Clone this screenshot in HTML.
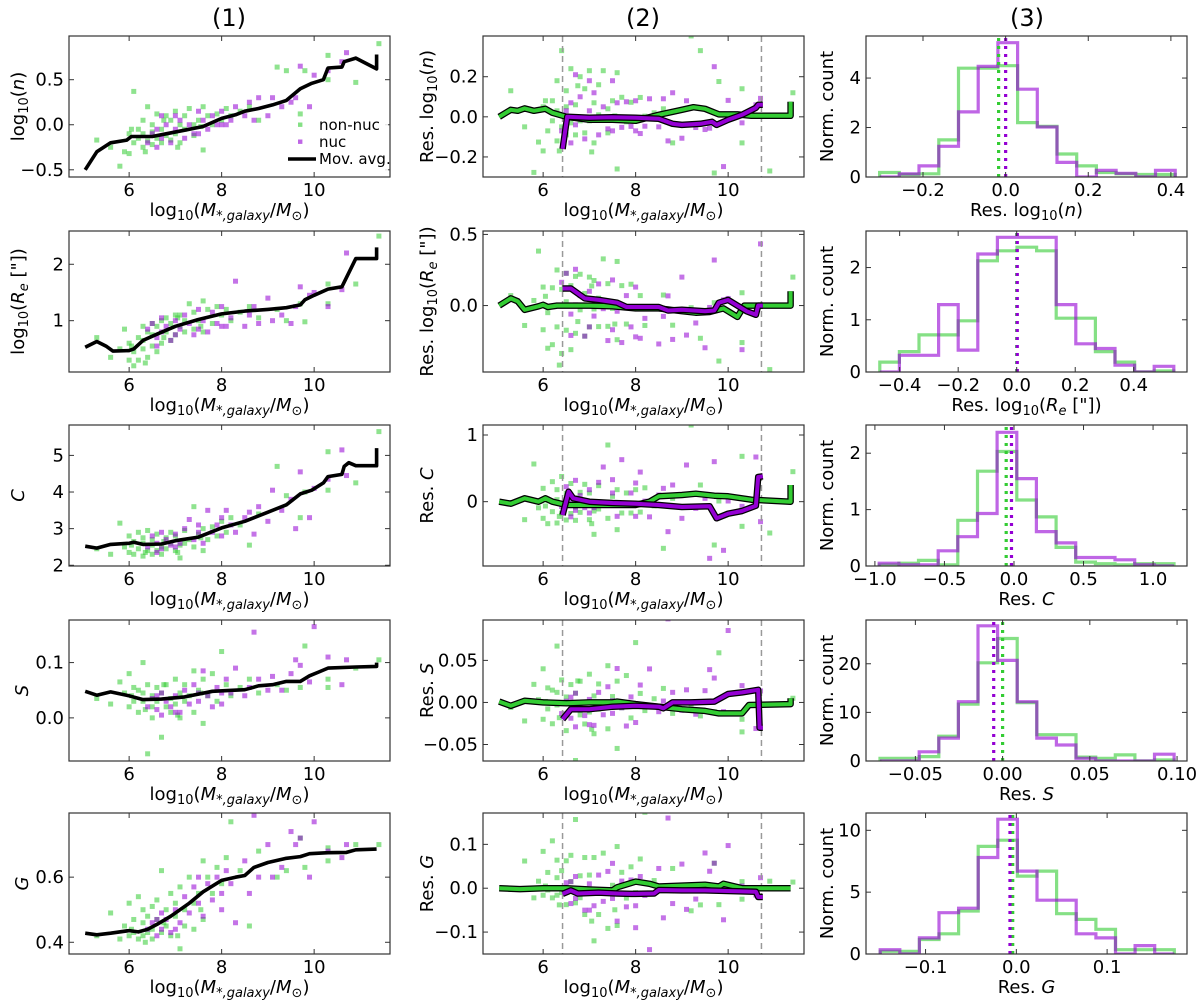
<!DOCTYPE html>
<html><head><meta charset="utf-8"><style>
html,body{margin:0;padding:0;background:#fff;}
svg{display:block;font-family:"DejaVu Sans","Liberation Sans",sans-serif;}
</style></head><body>
<svg id="fig" width="1200" height="1000" viewBox="0 0 1200 1000" xmlns="http://www.w3.org/2000/svg"></svg>
<script>
// ---------------- data ----------------
const gX=[5.3,5.6,5.8,5.9,6.0,6.0,6.1,6.1,6.2,6.2,6.3,6.3,6.3,6.4,6.4,6.5,6.5,6.5,6.6,6.6,6.7,6.7,6.8,6.8,6.9,6.9,7.0,7.0,7.1,7.1,7.2,7.2,7.3,7.4,7.4,7.5,7.6,7.6,7.7,7.8,7.9,8.0,8.1,8.2,8.4,8.6,8.8,9.2,9.4,9.7,9.8,10.3,10.3,10.9,11.4,6.05,6.35,6.75,7.05,7.55];
const pX=[6.4,6.5,6.6,6.7,6.7,6.8,6.9,7.0,7.1,7.2,7.3,7.4,7.5,7.6,7.7,7.8,7.9,8.0,8.1,8.2,8.3,8.5,8.6,8.7,8.8,9.0,9.1,9.3,9.5,9.6,9.7,9.9,10.0,10.3,10.6,10.7,6.6,7.0,7.5,8.0];
const gY1=[-0.17,-0.25,-0.46,-0.3,-0.1,-0.32,0.37,-0.2,-0.05,-0.15,0.05,-0.25,-0.1,0.2,-0.18,0.0,-0.22,-0.08,0.12,-0.15,-0.05,-0.2,0.1,-0.12,0.05,-0.17,0.15,-0.1,0.0,-0.2,0.1,-0.05,0.18,0.0,-0.12,0.05,0.2,-0.28,0.1,0.0,0.12,0.05,0.18,0.1,0.15,0.2,0.05,0.64,0.6,0.12,0.6,0.77,0.5,0.47,0.9,-0.05,-0.3,0.05,-0.25,-0.02];
const pY1=[-0.2,-0.1,-0.25,0.1,-0.15,0.0,-0.2,-0.05,0.05,-0.15,0.0,-0.1,0.15,0.05,-0.05,0.1,0.0,0.15,0.0,0.05,0.2,0.1,0.25,0.05,0.3,0.1,0.3,0.2,0.25,0.3,0.65,0.2,0.55,0.6,0.7,0.8,-0.05,0.1,-0.1,0.0];
const gY2=[0.7,0.35,0.5,0.85,0.3,0.6,0.2,0.45,0.7,0.3,0.9,0.5,0.65,0.35,0.8,0.95,0.55,0.75,0.45,0.9,1.0,0.6,0.8,1.05,0.65,0.95,1.1,0.75,0.9,1.1,0.8,1.0,1.3,0.85,1.15,1.0,1.35,0.8,1.2,0.95,1.25,1.1,1.2,1.0,1.15,1.25,1.05,1.2,1.0,1.3,0.98,1.65,1.3,1.65,2.5,0.55,0.25,0.7,1.05,0.9];
const pY2=[0.85,0.95,0.7,1.05,0.8,0.9,0.65,1.0,0.85,1.1,0.95,0.75,1.2,1.0,0.8,1.15,0.95,1.25,0.9,1.05,1.7,0.9,1.1,1.25,0.95,1.4,1.0,1.1,0.95,1.25,1.6,1.45,1.5,1.25,1.55,2.2,0.55,0.75,0.85,0.9];
const gY3=[2.45,2.3,3.15,2.5,2.8,2.35,2.65,2.3,2.9,2.45,2.6,2.25,2.75,2.4,2.95,2.55,2.3,2.7,2.4,2.85,2.5,2.3,2.75,2.45,2.9,2.6,2.4,2.8,2.55,2.2,2.95,2.6,2.7,3.6,2.5,2.85,2.4,3.0,2.7,3.05,2.8,3.2,2.9,3.3,3.1,2.55,3.4,4.7,3.9,3.3,4.0,5.1,4.05,4.25,5.65,2.55,2.35,2.65,2.35,2.75];
const pY3=[2.5,2.8,2.6,2.45,2.9,2.7,2.55,2.85,2.6,3.0,3.25,2.7,2.9,2.6,3.5,2.9,3.1,2.8,3.5,3.1,2.9,3.3,3.45,2.85,3.6,3.2,4.05,3.5,3.8,3.0,4.55,3.3,4.1,4.35,5.15,4.45,2.35,2.5,3.1,3.3];
const gY4=[0.035,0.025,0.065,0.045,0.08,0.02,0.055,0.03,0.01,0.05,0.1,0.03,0.045,-0.065,0.06,0.02,0.04,0.0,0.055,0.03,-0.035,0.045,0.02,0.06,0.035,0.01,0.07,0.025,0.045,0.0,0.06,0.03,0.04,0.085,0.01,0.05,-0.01,0.07,0.04,0.08,0.03,0.12,0.06,0.04,0.055,0.07,0.045,0.06,0.05,0.055,0.13,0.07,0.055,0.09,0.105,0.04,0.015,0.06,0.005,0.045];
const pY4=[0.02,0.035,0.015,0.045,0.005,0.03,0.02,0.04,0.01,0.05,0.025,0.06,0.03,0.085,0.04,0.02,0.055,0.025,0.07,0.045,0.09,0.04,0.055,0.155,0.07,0.05,0.075,0.05,0.08,0.105,0.095,0.065,0.165,0.11,0.06,0.105,0.04,0.01,0.045,0.045];
const gY5=[0.42,0.49,0.41,0.45,0.52,0.42,0.47,0.43,0.54,0.41,0.46,0.5,0.42,0.48,0.43,0.51,0.44,0.41,0.47,0.53,0.62,0.43,0.5,0.45,0.55,0.42,0.48,0.52,0.38,0.57,0.5,0.45,0.6,0.52,0.44,0.55,0.65,0.47,0.6,0.55,0.63,0.58,0.66,0.77,0.62,0.45,0.68,0.6,0.62,0.72,0.63,0.69,0.65,0.7,0.7,0.44,0.4,0.46,0.42,0.5];
const pY5=[0.44,0.46,0.42,0.49,0.44,0.47,0.43,0.5,0.46,0.54,0.49,0.57,0.52,0.48,0.58,0.53,0.6,0.55,0.62,0.58,0.46,0.65,0.55,0.79,0.6,0.7,0.6,0.63,0.74,0.7,0.72,0.6,0.77,0.68,0.66,0.7,0.47,0.44,0.6,0.5];
// moving averages (column 1)
const mv1X=[5.05,5.3,5.6,5.95,6.05,6.5,6.8,7.2,7.6,8.0,8.3,8.5,8.8,9.1,9.4,9.7,9.95,10.2,10.3,10.6,10.65,10.9,11.35,11.35];
const mv1Y=[-0.5,-0.3,-0.2,-0.17,-0.13,-0.13,-0.1,-0.06,-0.02,0.07,0.11,0.15,0.18,0.22,0.27,0.4,0.46,0.5,0.63,0.64,0.7,0.74,0.62,0.78];
const mv2X=[5.05,5.3,5.5,5.65,6.0,6.1,6.3,6.6,7.0,7.5,8.0,8.5,9.0,9.4,9.7,9.8,10.0,10.3,10.6,10.9,11.35,11.35];
const mv2Y=[0.53,0.63,0.55,0.46,0.47,0.5,0.65,0.76,0.9,1.02,1.12,1.17,1.2,1.23,1.28,1.37,1.45,1.56,1.6,2.1,2.1,2.3];
const mv3X=[5.05,5.3,5.6,6.0,6.1,6.3,6.7,7.0,7.5,8.0,8.5,9.0,9.4,9.7,9.95,10.2,10.3,10.6,10.65,10.75,10.9,11.35,11.35];
const mv3Y=[2.52,2.47,2.57,2.6,2.63,2.57,2.58,2.67,2.77,3.02,3.2,3.45,3.65,3.95,4.05,4.25,4.42,4.48,4.7,4.8,4.72,4.72,5.2];
const mv4X=[5.05,5.3,5.6,6.0,6.3,6.7,7.2,7.8,8.5,8.8,9.1,9.4,9.7,9.9,10.1,10.3,10.9,11.35,11.35];
const mv4Y=[0.048,0.041,0.047,0.04,0.033,0.034,0.038,0.048,0.051,0.058,0.06,0.066,0.066,0.076,0.083,0.09,0.092,0.093,0.1];
const mv5X=[5.05,5.3,5.6,6.0,6.2,6.4,6.6,6.9,7.3,7.6,8.0,8.3,8.5,8.7,9.0,9.4,9.7,9.9,10.3,10.7,10.9,11.35];
const mv5Y=[0.428,0.423,0.428,0.436,0.432,0.44,0.455,0.48,0.52,0.555,0.59,0.6,0.605,0.63,0.645,0.658,0.663,0.672,0.675,0.676,0.684,0.686];
// residual moving averages (column 2)
const rg1X=[5.05,5.3,5.45,5.6,5.8,6.05,6.2,6.5,7.0,7.5,8.0,8.5,9.0,9.25,9.5,9.8,10.2,10.5,11.35,11.35];
const rg1Y=[0.0,0.035,0.03,0.042,0.03,0.04,0.02,0.0,-0.015,-0.015,-0.02,0.01,0.035,0.048,0.04,0.012,0.012,0.005,0.005,0.075];
const rp1X=[6.42,6.52,7.0,7.5,8.0,8.5,8.8,9.0,9.4,9.65,9.75,10.0,10.3,10.6,10.65,10.75];
const rp1Y=[-0.16,0.0,-0.005,-0.002,-0.005,-0.01,-0.035,-0.04,-0.035,-0.025,-0.04,-0.015,0.01,0.045,0.06,0.06];
const rg2X=[5.05,5.3,5.45,5.6,5.9,6.0,6.1,6.3,7.0,7.5,8.0,8.5,9.0,9.3,9.6,9.9,10.2,10.35,11.35,11.35];
const rg2Y=[0,0.05,0.03,-0.03,-0.005,0.005,-0.01,0.0,0.0,-0.005,-0.02,-0.02,-0.04,-0.05,-0.045,-0.02,-0.08,0.0,0.0,0.1];
const rp2X=[6.42,6.6,6.9,7.2,7.6,7.8,8.5,8.7,9.0,9.5,9.7,9.8,10.0,10.4,10.6,10.65,10.75];
const rp2Y=[0.12,0.12,0.05,0.04,0.02,-0.01,-0.01,-0.035,-0.03,-0.04,-0.035,0.02,0.04,-0.04,-0.065,0.0,0.0];
const rg3X=[5.05,5.3,5.6,5.9,6.05,6.2,6.5,7.0,7.5,8.0,8.3,8.5,9.0,9.3,9.7,10.0,10.5,11.35,11.35];
const rg3Y=[0,-0.03,0.05,0.0,0.05,0.0,-0.05,-0.05,-0.05,-0.05,0.0,0.08,0.1,0.12,0.09,0.08,0.03,0.0,0.25];
const rp3X=[6.42,6.55,6.65,7.0,7.5,8.0,8.5,9.0,9.6,9.75,10.0,10.3,10.6,10.65,10.75];
const rp3Y=[-0.2,0.15,0.05,0.0,-0.02,-0.03,-0.05,-0.08,-0.07,-0.25,-0.18,-0.14,-0.06,0.37,0.38];
const rg4X=[5.05,5.3,5.6,6.0,6.5,7.0,7.5,7.6,8.0,8.5,9.0,9.5,9.8,10.3,10.45,11.35,11.35];
const rg4Y=[0.001,-0.004,0.002,0.0,-0.001,0.0,0.0,0.001,-0.002,-0.005,-0.008,-0.01,-0.013,-0.013,-0.003,-0.002,0.005];
const rp4X=[6.42,6.6,7.0,7.5,8.0,8.5,8.6,8.8,9.2,9.7,10.0,10.3,10.65,10.68,10.75];
const rp4Y=[-0.02,-0.008,-0.008,-0.005,-0.004,-0.005,-0.007,0.0,0.0,0.001,0.01,0.012,0.015,-0.03,-0.03];
const rg5X=[5.05,5.5,6.0,6.5,7.0,7.5,7.6,8.0,8.3,8.5,9.0,9.5,9.8,9.9,10.3,11.35];
const rg5Y=[0,-0.002,0.0,0.0,-0.003,-0.005,0.002,0.015,0.01,0.004,0.006,0.008,0.004,0.01,0.0,0.0];
const rp5X=[6.42,6.6,6.75,7.2,7.6,7.9,8.4,8.5,9.0,9.5,10.6,10.65,10.75];
const rp5Y=[-0.013,-0.005,-0.012,-0.01,-0.012,-0.013,-0.012,-0.004,-0.005,-0.005,-0.008,-0.02,-0.02];
// histograms (column 3): bin start, bin width, counts
const h1Start=-0.305, h1W=0.0477;
const h1G=[0.18,0.1,0.13,1.5,4.4,4.4,4.5,2.2,2.05,0.93,0.45,0.18,0.13,0.1,0.1];
const h1P=[0,0.13,0.45,1.24,2.63,4.47,5.43,3.55,2.02,0.59,0,0.27,0.15,0,0.27];
const h1Mean=[-0.017,0.0];
const h2Start=-0.468, h2W=0.067;
const h2G=[0.19,0.39,0.71,0.71,0.98,2.13,2.32,2.39,2.32,1.03,1.03,0.39,0.19,0,0.02];
const h2P=[0,0.32,0.32,1.29,0.42,2.26,2.58,2.58,2.58,1.29,0.54,0.45,0.13,0,0.11];
const h2Mean=[0.0,0.002];
const h3Start=-0.969, h3W=0.1413;
const h3G=[0.02,0.05,0.1,0.02,0.81,1.68,2.03,1.17,0.87,0.33,0.07,0.04,0.02,0.04,0.04];
const h3P=[0.05,0.02,0.02,0.27,0.52,0.93,2.37,1.55,0.61,0.41,0.15,0.15,0.11,0.02,0];
const h3Mean=[-0.056,-0.018];
const h4Start=-0.0703, h4W=0.01124;
const h4G=[0.55,0.55,0.9,5.1,11.7,20.2,25.2,12,5.4,5.4,0.8,0.55,1.25,0,0.2];
const h4P=[0,0,1.9,4.7,12.2,27.8,20.7,12.2,4.7,3.3,0.55,0,0,0,1.4];
const h4Mean=[0.0,-0.0051];
const h5Start=-0.150, h5W=0.0216;
const h5G=[0.22,0.22,1.17,1.63,3.48,8.7,9.2,6.3,6.7,3.26,2.8,2.0,0.35,0.35,0.35];
const h5P=[0.35,0,1.3,3.34,3.7,7.8,10.9,6.7,4.35,4.35,1.63,1.3,0,0.68,0];
const h5Mean=[-0.004,-0.007];
const sampleLo=6.42, sampleHi=10.72;

// ---------------- layout ----------------
const NS="http://www.w3.org/2000/svg";
const svg=document.getElementById('fig');
const GREEN="#33cc33", PURPLE="#9400d3";
const colL=[69,483,866], W=321;
const rowT=[36,231,425,620,813], H=141;
function el(tag,attrs,parent){const e=document.createElementNS(NS,tag);for(const k in attrs)e.setAttribute(k,attrs[k]);(parent||svg).appendChild(e);return e;}
function fmt(v,d){let s=Math.abs(v).toFixed(d);return (v<-1e-12?"\u2212":"")+s;}
function interp(xs,ys,x){if(x<=xs[0])return ys[0];for(let i=1;i<xs.length;i++){if(x<=xs[i]){const t=(x-xs[i-1])/((xs[i]-xs[i-1])||1);return ys[i-1]+t*(ys[i]-ys[i-1]);}}return ys[ys.length-1];}

function makeAxes(name,c,r,xlim,ylim,xt,xd,yt,yd){
  const L=colL[c],T=rowT[r];
  const g=el('g',{});
  
  
  const sx=v=>L+(v-xlim[0])/(xlim[1]-xlim[0])*W;
  const sy=v=>T+H-(v-ylim[0])/(ylim[1]-ylim[0])*H;
  const clipId='clip'+c+r;
  const cp=el('clipPath',{id:clipId},g);el('rect',{x:L,y:T,width:W,height:H},cp);
  const plot=el('g',{'clip-path':'url(#'+clipId+')'},g);
  return {g,plot,sx,sy,L,T,finish(){
    el('rect',{x:L,y:T,width:W,height:H,fill:'none',stroke:'#333',"stroke-width":1.2},g);
    xt.forEach(v=>{const x=sx(v);
      el('line',{x1:x,x2:x,y1:T+H,y2:T+H-5,stroke:'#333'},g);
      el('line',{x1:x,x2:x,y1:T,y2:T+5,stroke:'#333'},g);
      const t=el('text',{x:x,y:T+H+19,'text-anchor':'middle','font-size':18,fill:'#000'},g);t.textContent=fmt(v,xd);
      
      });
    yt.forEach(v=>{const y=sy(v);
      el('line',{x1:L,x2:L+5,y1:y,y2:y,stroke:'#333'},g);
      el('line',{x1:L+W,x2:L+W-5,y1:y,y2:y,stroke:'#333'},g);
      const t=el('text',{x:L-5,y:y+6,'text-anchor':'end','font-size':18,fill:'#000'},g);t.textContent=fmt(v,yd);
      
      });
  }};
}
function richText(parent,x,y,parts,opts){
  const t=el('text',Object.assign({x:x,y:y,'font-size':18,fill:'#000','text-anchor':'middle'},opts||{}),parent);
  parts.forEach(p=>{const s=el('tspan',{},t);s.textContent=p[0];
    if(p[1]==='i')s.setAttribute('font-style','italic');
    if(p[1]==='sub'){s.setAttribute('font-size',13);s.setAttribute('dy',4);}
    if(p[1]==='subi'){s.setAttribute('font-size',13);s.setAttribute('dy',4);s.setAttribute('font-style','italic');}
    if(p[1]==='up'){s.setAttribute('dy',-4);}
    if(p[1]==='upi'){s.setAttribute('dy',-4);s.setAttribute('font-style','italic');}
  });
  return t;
}
const massLabel=[["log"],["10","sub"],["(","up"],["M","i"],["*,galaxy","subi"],["/","up"],["M","i"],["\u2299","sub"],[")","up"]];
function xlabel(ax,parts){const t=richText(svg,ax.L+W/2,ax.T+H+39,parts);
  
  }
function ylabel(x,ax,parts){const cy=ax.T+H/2;const t=richText(svg,0,0,parts,{transform:`translate(${x},${cy}) rotate(-90)`});
  
  }

function scatter(ax,xs,ys,color,name){
  const g=el('g',{},ax.plot);
  
  
  xs.forEach((x,i)=>{const r=el('rect',{x:ax.sx(x)-2.5,y:ax.sy(ys[i])-2.5,width:5,height:5,fill:color,'fill-opacity':0.55},g);
    
    });
}
function pathOf(ax,xs,ys){return xs.map((x,i)=>(i?'L':'M')+ax.sx(x).toFixed(1)+','+ax.sy(ys[i]).toFixed(1)).join(' ');}
function line(ax,xs,ys,color,w,name,outline){
  const d=pathOf(ax,xs,ys);
  if(outline){const o=el('path',{d:d,fill:'none',stroke:'#000','stroke-width':w+2.5,'stroke-linejoin':'round'},ax.plot);
    
    }
  const p=el('path',{d:d,fill:'none',stroke:color,'stroke-width':w,'stroke-linejoin':'round'},ax.plot);
  
  
}
function hist(ax,start,w,counts,color,name){
  let d='';counts.forEach((c,i)=>{const x0=ax.sx(start+i*w),x1=ax.sx(start+(i+1)*w),y=ax.sy(c);
    d+=(i?'L':'M'+x0.toFixed(1)+','+ax.sy(0).toFixed(1)+' L')+x0.toFixed(1)+','+y.toFixed(1)+' L'+x1.toFixed(1)+','+y.toFixed(1)+' ';});
  d+='L'+ax.sx(start+counts.length*w).toFixed(1)+','+ax.sy(0).toFixed(1);
  const p=el('path',{d:d,fill:'none',stroke:color,'stroke-width':3.2,'stroke-opacity':0.6},ax.plot);
  
  
}
function meanLine(ax,v,color,name){
  const x=ax.sx(v);const l=el('line',{x1:x,x2:x,y1:ax.T+H,y2:ax.T,stroke:color,'stroke-width':3.2,'stroke-dasharray':'3,5'},ax.plot);
  
  
}

// titles
[['(1)',229],['(2)',643],['(3)',1027]].forEach(([s,x],i)=>{const t=el('text',{x:x,y:26,'text-anchor':'middle','font-size':24,fill:'#000'});t.textContent=s;
  
  });

const rows=[
 {gY:gY1,pY:pY1,mX:mv1X,mY:mv1Y,c1y:[-0.58,0.985],c1t:[-0.5,0,0.5],c1d:1,
  c2y:[-0.30,0.403],c2t:[-0.2,0,0.2],c2d:1,rg:[rg1X,rg1Y],rp:[rp1X,rp1Y],
  hx:[-0.338,0.439],hy:[0,5.7],hxt:[-0.2,0,0.2,0.4],hxd:1,hyt:[0,2,4],hs:h1Start,hw:h1W,hG:h1G,hP:h1P,hm:h1Mean,
  yl:[["log"],["10","sub"],["(","up"],["n","i"],[")"]],
  rl:[["Res. log"],["10","sub"],["(","up"],["n","i"],[")"]]},
 {gY:gY2,pY:pY2,mX:mv2X,mY:mv2Y,c1y:[0.09,2.59],c1t:[1,2],c1d:0,
  c2y:[-0.467,0.524],c2t:[0,0.5],c2d:1,rg:[rg2X,rg2Y],rp:[rp2X,rp2Y],
  hx:[-0.515,0.582],hy:[0,2.7],hxt:[-0.4,-0.2,0,0.2,0.4],hxd:1,hyt:[0,1,2],hs:h2Start,hw:h2W,hG:h2G,hP:h2P,hm:h2Mean,
  yl:[["log"],["10","sub"],["(","up"],["R","i"],["e","subi"],[" [\"])","up"]],
  rl:[["Res. log"],["10","sub"],["(","up"],["R","i"],["e","subi"],[" [\"])","up"]]},
 {gY:gY3,pY:pY3,mX:mv3X,mY:mv3Y,c1y:[1.98,5.83],c1t:[2,3,4,5],c1d:0,
  c2y:[-0.965,1.15],c2t:[0,1],c2d:0,rg:[rg3X,rg3Y],rp:[rp3X,rp3Y],
  hx:[-1.064,1.244],hy:[0,2.5],hxt:[-1,-0.5,0,0.5,1],hxd:1,hyt:[0,1,2],hs:h3Start,hw:h3W,hG:h3G,hP:h3P,hm:h3Mean,
  yl:[["C","i"]],rl:[["Res. "],["C","i"]]},
 {gY:gY4,pY:pY4,mX:mv4X,mY:mv4Y,c1y:[-0.078,0.177],c1t:[0,0.1],c1d:1,
  c2y:[-0.0696,0.098],c2t:[-0.05,0,0.05],c2d:2,rg:[rg4X,rg4Y],rp:[rp4X,rp4Y],
  hx:[-0.0783,0.1057],hy:[0,29],hxt:[-0.05,0,0.05,0.1],hxd:2,hyt:[0,10,20],hs:h4Start,hw:h4W,hG:h4G,hP:h4P,hm:h4Mean,
  yl:[["S","i"]],rl:[["Res. "],["S","i"]]},
 {gY:gY5,pY:pY5,mX:mv5X,mY:mv5Y,c1y:[0.364,0.797],c1t:[0.4,0.6],c1d:1,
  c2y:[-0.15,0.1715],c2t:[-0.1,0,0.1],c2d:1,rg:[rg5X,rg5Y],rp:[rp5X,rp5Y],
  hx:[-0.1656,0.188],hy:[0,11.4],hxt:[-0.1,0,0.1],hxd:1,hyt:[0,5,10],hs:h5Start,hw:h5W,hG:h5G,hP:h5P,hm:h5Mean,
  yl:[["G","i"]],rl:[["Res. "],["G","i"]]}
];
const XL=[4.70,11.64], XT=[6,8,10];
rows.forEach((R,r)=>{
  const a=makeAxes('relation-panel-'+(r+1),0,r,XL,R.c1y,XT,0,R.c1t,R.c1d);
  scatter(a,gX,R.gY,GREEN,'non-nuc-points');
  scatter(a,pX,R.pY,PURPLE,'nuc-points');
  line(a,R.mX,R.mY,'#000',3.6,'moving-average-line',false);
  a.finish();xlabel(a,massLabel);ylabel(r===3||r===4?28:24,a,R.yl);
  const b=makeAxes('residual-panel-'+(r+1),1,r,XL,R.c2y,XT,0,R.c2t,R.c2d);
  scatter(b,gX,gX.map((x,i)=>R.gY[i]-interp(R.mX,R.mY,x)),GREEN,'non-nuc-residuals');
  scatter(b,pX,pX.map((x,i)=>R.pY[i]-interp(R.mX,R.mY,x)),PURPLE,'nuc-residuals');
  [sampleLo,sampleHi].forEach(v=>{const l=el('line',{x1:b.sx(v),x2:b.sx(v),y1:b.T,y2:b.T+H,stroke:'#999','stroke-width':1.5,'stroke-dasharray':'6,4'},b.plot);
    
    });
  line(b,R.rg[0],R.rg[1],GREEN,4,'non-nuc-residual-trend',true);
  line(b,R.rp[0],R.rp[1],PURPLE,4,'nuc-residual-trend',true);
  b.finish();xlabel(b,massLabel);ylabel(433,b,R.rl);
  const h=makeAxes('histogram-panel-'+(r+1),2,r,R.hx,R.hy,R.hxt,R.hxd,R.hyt,0);
  hist(h,R.hs,R.hw,R.hG,GREEN,'non-nuc-histogram');
  hist(h,R.hs,R.hw,R.hP,PURPLE,'nuc-histogram');
  meanLine(h,R.hm[0],GREEN,'non-nuc-median');
  meanLine(h,R.hm[1],PURPLE,'nuc-median');
  h.finish();xlabel(h,R.rl);ylabel(833,h,[["Norm. count"]]);
});

const lg=el('g',{});


el('rect',{x:286,y:119,width:102,height:52,fill:'#fff','fill-opacity':0.85},lg);
const entries=[['non-nuc',GREEN,'m',130],['nuc',PURPLE,'m',147],['Mov. avg.','#000','l',164]];
entries.forEach(([s,c,k,y])=>{
  const e=el('g',{},lg);
  
  
  if(k==='m')el('rect',{x:298,y:y-7.5,width:4.4,height:4.4,fill:c,'fill-opacity':0.6},e);
  else el('line',{x1:288,x2:316,y1:y-5,y2:y-5,stroke:c,'stroke-width':3.6},e);
  const t=el('text',{x:319,y:y,'font-size':15,fill:'#000'},e);t.textContent=s;
});
</script>
</body></html>
